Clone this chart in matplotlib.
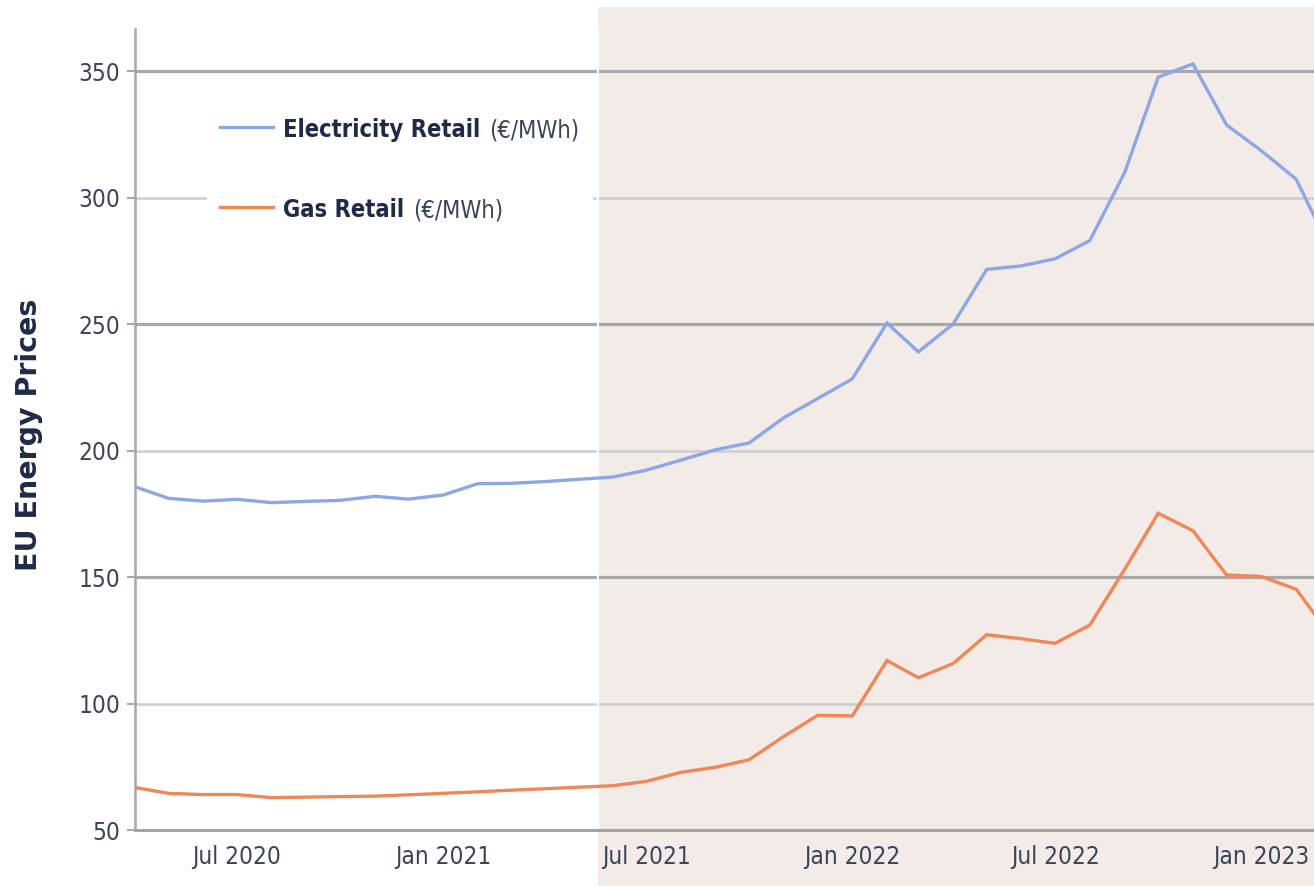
import matplotlib
matplotlib.use("Agg")
import matplotlib.pyplot as plt
import matplotlib.dates as mdates
from matplotlib.patches import Rectangle
from matplotlib.lines import Line2D
import pandas as pd

# ---------------- data ----------------
months = ["2020-04", "2020-05", "2020-06", "2020-07", "2020-08", "2020-09",
          "2020-10", "2020-11", "2020-12", "2021-01", "2021-02", "2021-03",
          "2021-04", "2021-05", "2021-06", "2021-07", "2021-08", "2021-09",
          "2021-10", "2021-11", "2021-12", "2022-01", "2022-02", "2022-03",
          "2022-04", "2022-05", "2022-06", "2022-07", "2022-08", "2022-09",
          "2022-10", "2022-11", "2022-12", "2023-01", "2023-02", "2023-03"]

electricity_retail = [185.7, 181.1, 180.0, 180.7, 179.4, 179.9, 180.3, 181.9, 180.8,
                      182.4, 186.9, 187.0, 187.7, 188.6, 189.5, 192.2, 196.2, 200.3,
                      203.0, 213.0, 220.5, 228.3, 250.4, 239.0, 250.0, 271.6, 273.0,
                      275.8, 283.0, 309.8, 347.6, 352.8, 328.7, 318.5, 307.3, 282.0]

gas_retail = [66.8, 64.5, 64.0, 64.0, 62.8, 63.0, 63.2, 63.4, 63.9,
              64.5, 65.1, 65.7, 66.3, 66.9, 67.5, 69.2, 72.8, 74.8,
              77.8, 87.0, 95.3, 95.1, 117.0, 110.2, 115.8, 127.2, 125.6,
              123.8, 131.0, 153.0, 175.2, 168.3, 150.8, 150.2, 145.2, 128.5]

series_labels = ["Electricity Retail", "Gas Retail"]
unit_label = "(€/MWh)"
y_label = "EU Energy Prices"
y_ticks = [50, 100, 150, 200, 250, 300, 350]
shade_start = "2021-05-19"
x_start, x_end = "2020-04-01", "2023-02-17"

# ---------------- style ----------------
elec_color = "#8ca6e6"
gas_color = "#ef8757"
shade_color = "#f3ebe8"
tick_text_color = "#3a4358"
navy = "#1e2a48"
grid_dark = "#a9a9a9"
grid_light = "#cdcdcd"

plt.rcParams["font.family"] = ["DejaVu Sans"]
plt.rcParams["font.stretch"] = "condensed"

dates = pd.to_datetime(months)

fig = plt.figure(figsize=(13.14, 8.86), dpi=100)
fig.patch.set_facecolor("white")
ax = fig.add_axes([0.1027, 0.0632, 0.8973, 0.904])

# shaded period (extends over tick label area as in the reference)
ax.axvspan(pd.Timestamp(shade_start), pd.Timestamp("2023-12-31"),
           ymin=-0.08, ymax=1.028, color=shade_color, clip_on=False,
           zorder=0, lw=0)

# alternating gridlines
for v in y_ticks[1:]:
    dark = (v % 100) == 50
    ax.axhline(v, color=grid_dark if dark else grid_light,
               lw=2.3 if dark else 1.8, zorder=0.5)
ax.axvline(pd.Timestamp(shade_start), color="white", lw=1.5, zorder=0.8)

# lines
ax.plot(dates, electricity_retail, color=elec_color, lw=2.4, zorder=3,
        solid_joinstyle="miter")
ax.plot(dates, gas_retail, color=gas_color, lw=2.4, zorder=3,
        solid_joinstyle="miter")

ax.set_xlim(pd.Timestamp(x_start), pd.Timestamp(x_end))
ax.set_ylim(50, 366.6)
ax.set_yticks(y_ticks)

ax.xaxis.set_major_locator(mdates.MonthLocator(bymonth=[1, 7]))
ax.xaxis.set_major_formatter(mdates.DateFormatter("%b %Y"))

for s in ["top", "right"]:
    ax.spines[s].set_visible(False)
ax.spines["left"].set_color("#a8a8a8")
ax.spines["left"].set_linewidth(1.8)
ax.spines["bottom"].set_color("#a3a3a3")
ax.spines["bottom"].set_linewidth(2.2)
ax.spines["left"].set_zorder(2)
ax.spines["bottom"].set_zorder(2)

ax.tick_params(axis="y", length=5.5, width=1.5, color="#a8a8a8", pad=5,
               labelsize=17.5, labelcolor=tick_text_color)
ax.tick_params(axis="x", length=0, pad=11, labelsize=17.5,
               labelcolor=tick_text_color)

ax.set_ylabel(y_label, fontsize=20.5, fontweight="bold", color=navy,
              fontstretch="normal")
ax.yaxis.set_label_coords(-0.078, 0.493)

# legend (manual, to allow bold + regular text)
ax.add_patch(Rectangle((0.061, 0.735), 0.3275, 0.19, transform=ax.transAxes,
                       facecolor="white", edgecolor="none", zorder=1))
legend_colors = [elec_color, gas_color]
line_y = [0.8777, 0.7778]
base_y = [0.8652, 0.7653]
for lab, col, ly, by in zip(series_labels, legend_colors, line_y, base_y):
    ax.add_line(Line2D([0.0721, 0.117], [ly, ly], transform=ax.transAxes,
                       color=col, lw=2.4, zorder=4))
    t1 = ax.text(0.1255, by, lab, transform=ax.transAxes, fontsize=17,
                 fontweight="bold", color=navy, ha="left", va="baseline",
                 zorder=4)
    ax.annotate(unit_label, xy=(1, 0), xycoords=t1, xytext=(6.5, 0),
                textcoords="offset points", fontsize=17, color=tick_text_color,
                ha="left", va="bottom", zorder=4)

fig.savefig("out.png", dpi=100, facecolor="white")
